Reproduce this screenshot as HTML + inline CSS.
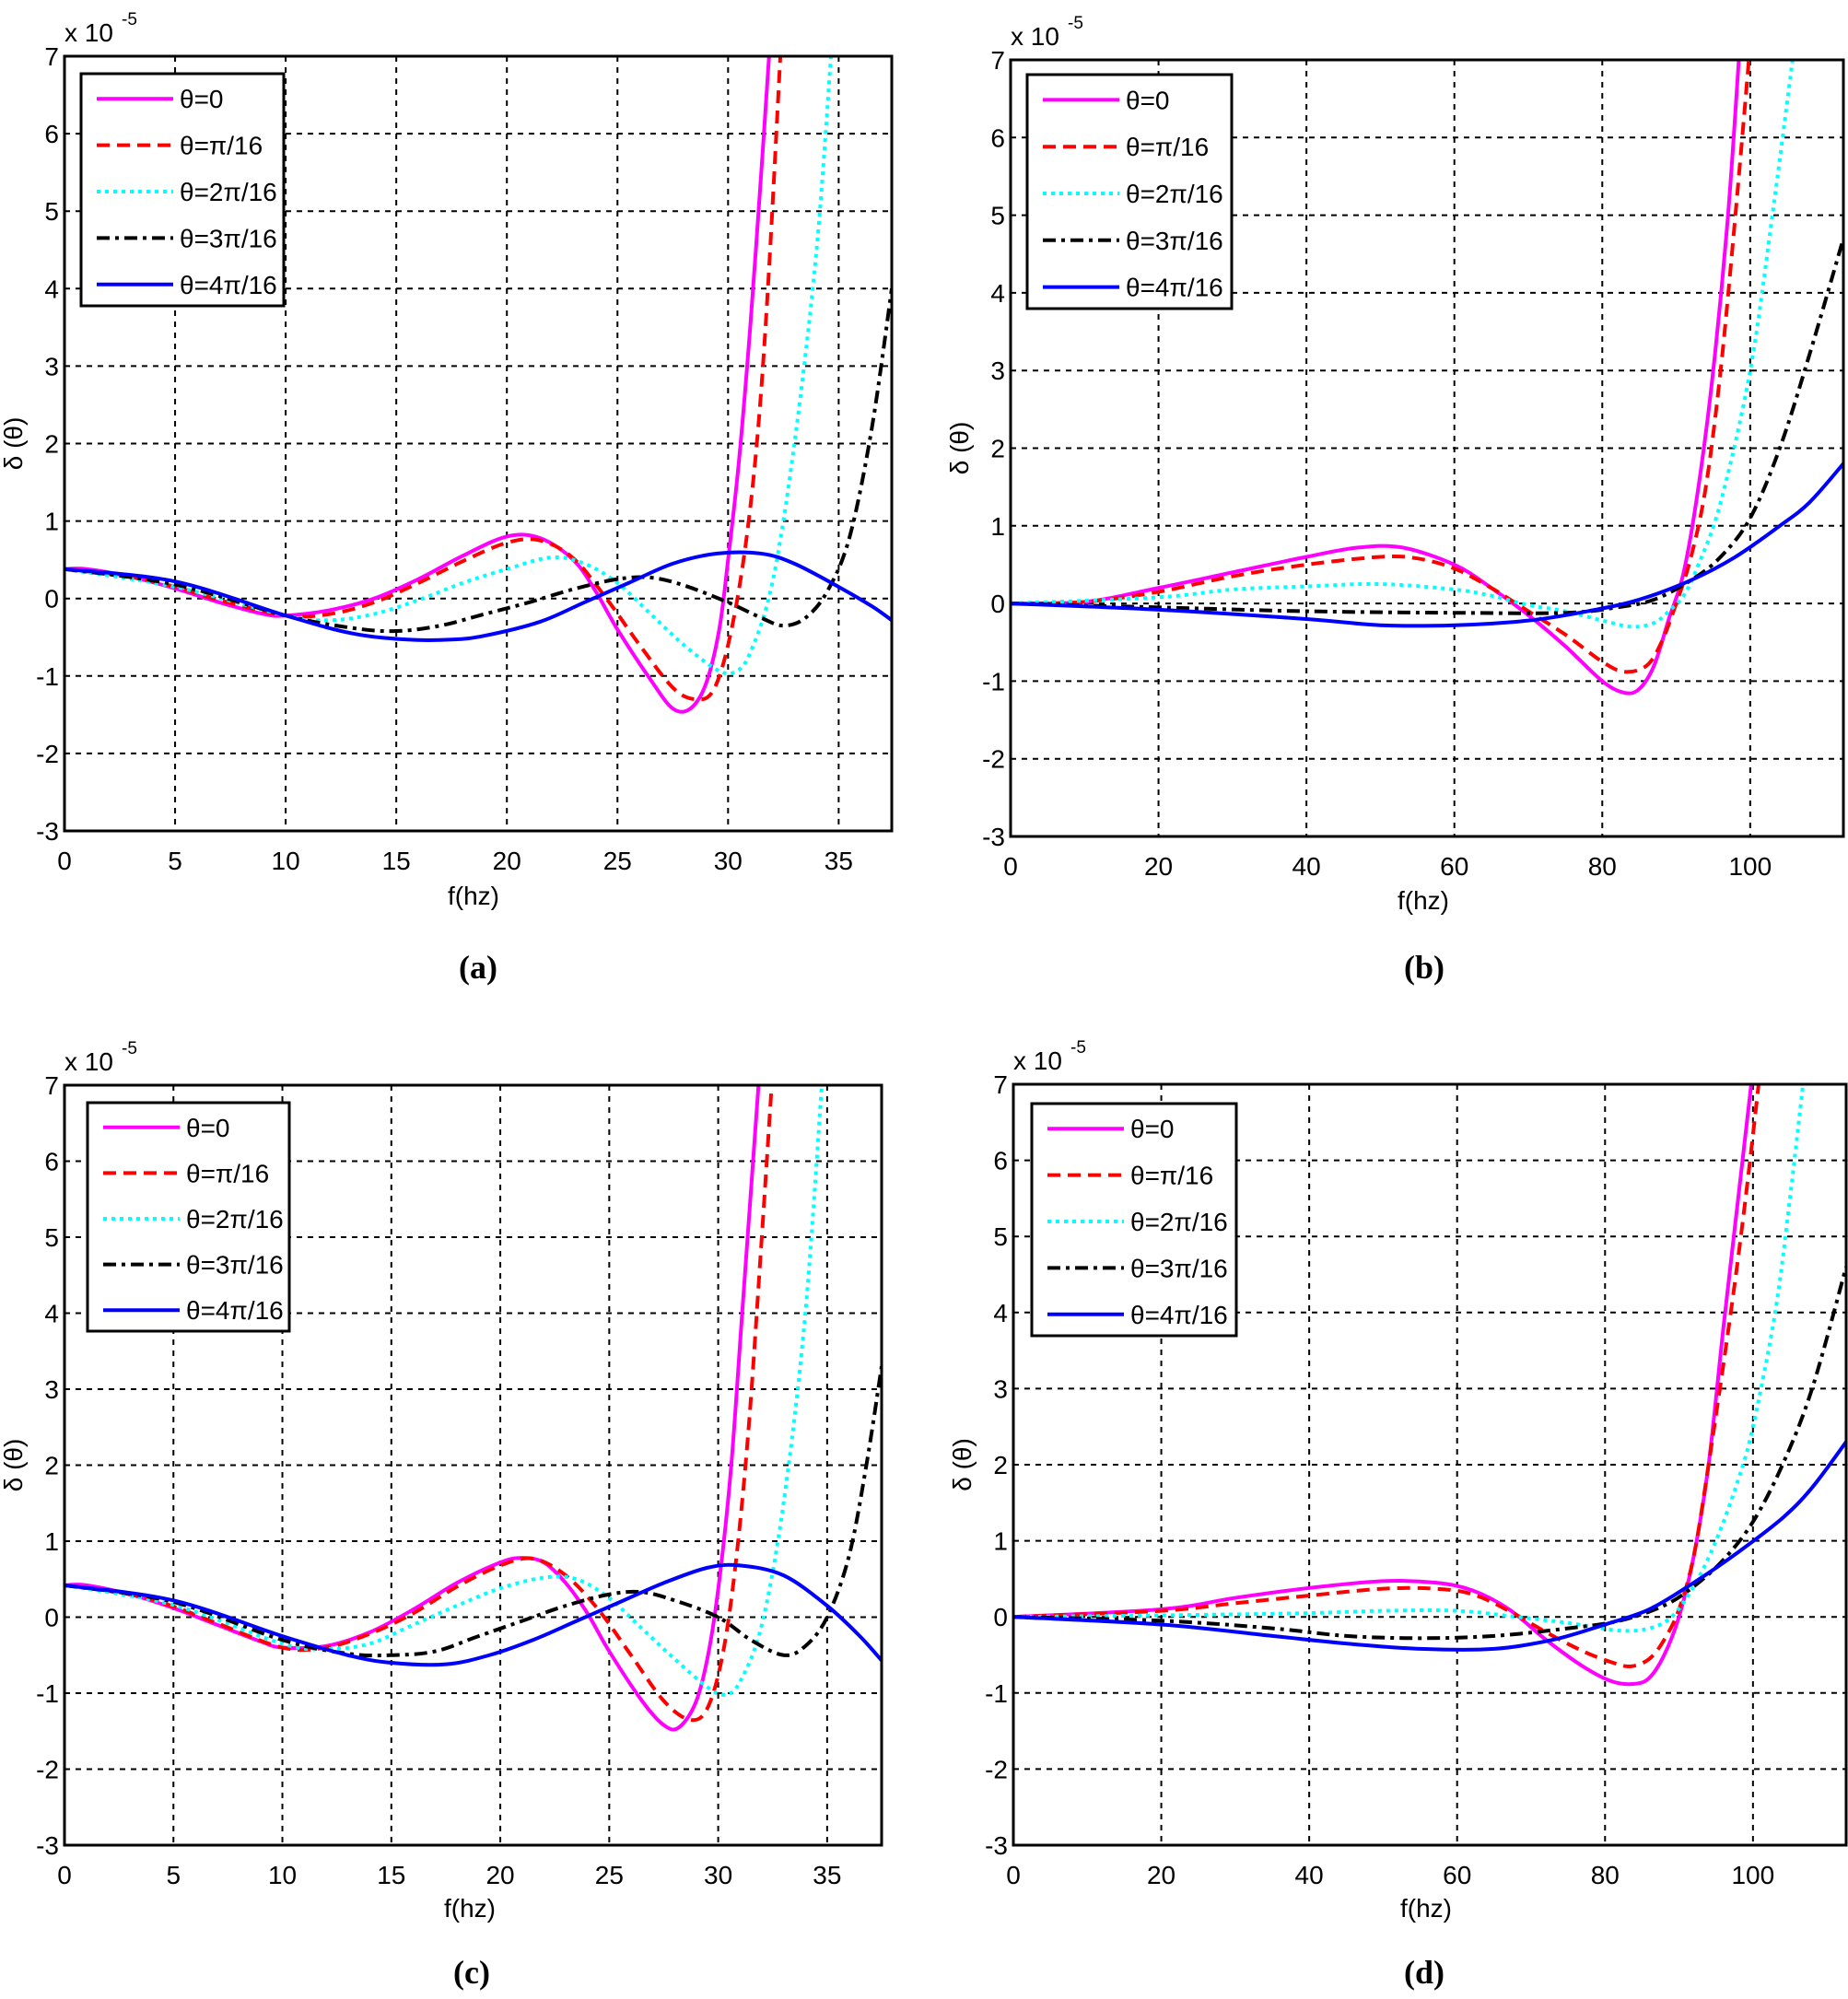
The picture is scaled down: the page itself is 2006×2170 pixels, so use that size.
<!DOCTYPE html>
<html><head><meta charset="utf-8"><style>
html,body{margin:0;padding:0;background:#fff;}
svg{display:block;}
text{font-family:"Liberation Sans",sans-serif;fill:#000;}
</style></head><body>
<svg id="s" width="2006" height="2170" viewBox="0 0 2006 2170" xmlns="http://www.w3.org/2000/svg"></svg>
<script>
const S=document.getElementById('s');let h='';
const panels=[
 {L:70,T:61,R:968,B:902,xmax:37.4,step:5,lab:'(a)',lx:519,ly:1062,fx:514,fy:982,lg:[88,80,308,332]},
 {L:1097,T:65,R:2001,B:908,xmax:112.6,step:20,lab:'(b)',lx:1546,ly:1062,fx:1545,fy:987,lg:[1115,81,1337,335]},
 {L:70,T:1178,R:957,B:2003,xmax:37.5,step:5,lab:'(c)',lx:512,ly:2153,fx:510,fy:2081,lg:[95,1197,314,1445]},
 {L:1100,T:1177,R:2004,B:2003,xmax:112.6,step:20,lab:'(d)',lx:1546,ly:2153,fx:1548,fy:2081,lg:[1120,1198,1342,1450]}
];
const sty=[
 {c:'#ff00ff',d:''},{c:'#ff0000',d:'14,8'},{c:'#00ffff',d:'4,5'},{c:'#000',d:'14,6,4,6'},{c:'#0000ff',d:''}];
const names=['θ=0','θ=π/16','θ=2π/16','θ=3π/16','θ=4π/16'];
const A=[
[[0,0.38],[1,0.38],[3,0.28],[5,0.13],[7,-0.05],[9,-0.2],[10,-0.22],[12,-0.15],[14,0.0],[16,0.25],[18,0.55],[20,0.8],[21.5,0.78],[23,0.5],[24,0.1],[25,-0.4],[26.5,-1.05],[27.5,-1.42],[28.3,-1.42],[29,-1.1],[29.6,-0.4],[30,0.5],[30.5,1.8],[31,3.5],[31.5,5.5],[31.9,7.2]],
[[0,0.38],[3,0.28],[5,0.15],[7,-0.02],[10,-0.22],[12,-0.2],[14,-0.05],[16,0.2],[18,0.48],[20,0.72],[21.5,0.75],[23,0.52],[24.5,0.0],[26,-0.6],[27.5,-1.15],[28.5,-1.3],[29.3,-1.2],[30,-0.6],[30.7,0.5],[31.3,2],[31.8,4],[32.4,7.2]],
[[0,0.38],[5,0.15],[10,-0.22],[12,-0.28],[14,-0.2],[16,-0.02],[18,0.2],[20,0.38],[22,0.53],[23.5,0.45],[25,0.2],[26.5,-0.2],[28,-0.6],[29.5,-0.92],[30.3,-0.95],[31,-0.7],[32,0.2],[33,2],[34,4.5],[34.7,7.2]],
[[0,0.38],[5,0.18],[10,-0.22],[13,-0.38],[15,-0.42],[17,-0.35],[19,-0.2],[21,-0.05],[23,0.12],[25,0.25],[26.5,0.27],[28,0.17],[30,-0.05],[31.5,-0.25],[32.5,-0.35],[33.5,-0.25],[34.5,0.1],[35.5,0.8],[36.5,2.2],[37.4,4.0]],
[[0,0.38],[5,0.22],[10,-0.22],[13,-0.45],[15.5,-0.53],[17.5,-0.53],[19,-0.48],[21.5,-0.3],[23.5,-0.05],[25.5,0.2],[27.5,0.45],[29.5,0.58],[31.5,0.58],[33,0.45],[35,0.15],[36.5,-0.1],[37.4,-0.28]]];
const C=[
[[0,0.42],[1,0.42],[3,0.3],[5,0.12],[7,-0.1],[9,-0.32],[10,-0.4],[12,-0.38],[14,-0.2],[16,0.1],[18,0.45],[20,0.72],[21,0.78],[22,0.72],[23,0.45],[24,0.05],[25,-0.45],[26.5,-1.1],[27.5,-1.42],[28.2,-1.45],[29,-1.1],[29.6,-0.4],[30.1,0.6],[30.6,2],[31.1,4],[31.6,6],[31.9,7.2]],
[[0,0.42],[3,0.3],[5,0.14],[7,-0.08],[10,-0.4],[12,-0.4],[14,-0.22],[16,0.05],[18,0.4],[20,0.68],[21.5,0.77],[23,0.55],[24.5,0.1],[26,-0.5],[27.5,-1.1],[28.7,-1.35],[29.5,-1.2],[30.2,-0.5],[30.8,0.7],[31.4,2.5],[32,5],[32.5,7.2]],
[[0,0.42],[5,0.16],[10,-0.35],[12,-0.42],[14,-0.35],[16,-0.1],[18,0.15],[20,0.38],[22,0.52],[23.5,0.5],[25,0.25],[26.5,-0.15],[28,-0.55],[29.5,-0.92],[30.3,-1.02],[31,-0.85],[32,-0.1],[33,1.5],[34,4],[34.8,7.2]],
[[0,0.42],[5,0.2],[10,-0.3],[13,-0.48],[15,-0.5],[17,-0.45],[19,-0.25],[21,-0.05],[23,0.15],[25,0.3],[26.5,0.33],[28,0.22],[30,0.0],[31.5,-0.3],[33,-0.5],[34,-0.38],[35,0],[36,0.8],[36.8,2],[37.5,3.3]],
[[0,0.42],[5,0.22],[10,-0.25],[13,-0.5],[15,-0.6],[17.5,-0.62],[19.5,-0.5],[21.5,-0.3],[23.5,-0.05],[25.5,0.2],[27.5,0.45],[29.5,0.65],[31,0.68],[33,0.55],[35,0.15],[36.5,-0.25],[37.5,-0.57]]];
const B=[
[[0,0],[10,0.02],[20,0.2],[30,0.4],[40,0.6],[47,0.72],[53,0.72],[60,0.5],[65,0.2],[70,-0.15],[75,-0.55],[80,-1.0],[83,-1.15],[85,-1.1],[87,-0.8],[89,-0.2],[91,0.4],[93,1.5],[95,3],[97,5],[98.6,7.2]],
[[0,0],[10,0.02],[20,0.15],[30,0.35],[40,0.5],[50,0.6],[55,0.58],[60,0.45],[65,0.2],[70,-0.1],[75,-0.4],[80,-0.75],[83,-0.88],[86,-0.8],[88,-0.5],[90,0],[92,0.6],[94,1.5],[96,3],[98,5],[100,7.2]],
[[0,0],[20,0.08],[30,0.18],[40,0.22],[50,0.25],[60,0.18],[65,0.1],[70,-0.02],[75,-0.1],[80,-0.22],[84,-0.3],[87,-0.25],[89,-0.1],[91,0.1],[93,0.5],[96,1.3],[100,3],[103,5],[106,7.2]],
[[0,0],[20,-0.05],[40,-0.1],[60,-0.12],[75,-0.12],[82,-0.05],[87,0.05],[92,0.3],[96,0.6],[100,1.1],[104,2],[108,3.2],[112.6,4.7]],
[[0,0],[20,-0.08],[40,-0.2],[50,-0.28],[60,-0.28],[70,-0.22],[78,-0.1],[85,0.05],[92,0.3],[98,0.6],[104,1.0],[108,1.3],[112.6,1.8]]];
const D=[
[[0,0],[20,0.1],[30,0.25],[40,0.38],[50,0.47],[57,0.45],[62,0.35],[67,0.1],[72,-0.3],[77,-0.65],[81,-0.85],[84,-0.88],[86,-0.8],[88,-0.5],[90,0],[92,0.8],[94,2],[96,3.8],[98,5.5],[100,7.2]],
[[0,0],[20,0.08],[30,0.18],[40,0.28],[50,0.37],[57,0.37],[62,0.3],[67,0.08],[72,-0.2],[77,-0.45],[81,-0.6],[83.5,-0.65],[86,-0.55],[88,-0.3],[90,0.1],[92,0.8],[94,2],[97,4],[99,5.5],[101,7.2]],
[[0,0],[20,0.02],[40,0.05],[50,0.08],[60,0.08],[68,0.0],[75,-0.08],[82,-0.18],[86,-0.15],[89,0],[92,0.4],[95,1],[98,1.8],[100,2.5],[103,4],[105,5.5],[107,7.2]],
[[0,0],[20,-0.05],[35,-0.15],[45,-0.25],[55,-0.28],[65,-0.25],[75,-0.15],[82,-0.05],[88,0.15],[92,0.4],[96,0.75],[100,1.25],[104,2],[108,3],[112.6,4.6]],
[[0,0],[20,-0.1],[35,-0.25],[45,-0.35],[55,-0.42],[65,-0.42],[73,-0.3],[80,-0.1],[86,0.1],[92,0.45],[98,0.85],[104,1.3],[108,1.7],[112.6,2.3]]];
const DATA=[A,B,C,D];
panels.forEach((p,i)=>{
 const X=x=>p.L+(x/p.xmax)*(p.R-p.L), Y=y=>p.B-(y+3)/10*(p.B-p.T);
 h+=`<defs><clipPath id="c${i}"><rect x="${p.L}" y="${p.T}" width="${p.R-p.L}" height="${p.B-p.T}"/></clipPath></defs>`;
 for(let x=p.step;x<p.xmax;x+=p.step) h+=`<line x1="${X(x)}" x2="${X(x)}" y1="${p.T}" y2="${p.B}" stroke="#000" stroke-width="2" stroke-dasharray="6,6"/>`;
 for(let y=-2;y<7;y++) h+=`<line x1="${p.L}" x2="${p.R}" y1="${Y(y)}" y2="${Y(y)}" stroke="#000" stroke-width="2" stroke-dasharray="6,6"/>`;
 for(let x=0;x<=p.xmax;x+=p.step) h+=`<text x="${X(x)}" y="${p.B+42}" font-size="28" text-anchor="middle">${x}</text>`;
 for(let y=-3;y<=7;y++) h+=`<text x="${p.L-6}" y="${Y(y)+10}" font-size="28" text-anchor="end">${y}</text>`;
 h+=`<text x="${p.L}" y="${p.T-16}" font-size="28">x 10</text><text x="${p.L+62}" y="${p.T-34}" font-size="19">-5</text>`;
 const cy=(p.T+p.B)/2;
 h+=`<text transform="translate(${p.L-46},${cy}) rotate(-90)" font-size="28" text-anchor="middle">δ (θ)</text>`;
 h+=`<text x="${p.fx}" y="${p.fy}" font-size="28" text-anchor="middle">f(hz)</text>`;
 h+=`<text x="${p.lx}" y="${p.ly}" font-size="36" font-weight="bold" text-anchor="middle" style="font-family:'Liberation Serif',serif">${p.lab}</text>`;
 DATA[i].forEach((pts,k)=>{
  const P=pts.map(q=>[X(q[0]),Y(q[1])]);
  let d=`M${P[0][0]},${P[0][1]}`;
  for(let j=0;j<P.length-1;j++){const p0=P[Math.max(0,j-1)],p1=P[j],p2=P[j+1],p3=P[Math.min(P.length-1,j+2)];
   d+=` C${p1[0]+(p2[0]-p0[0])/6},${p1[1]+(p2[1]-p0[1])/6} ${p2[0]-(p3[0]-p1[0])/6},${p2[1]-(p3[1]-p1[1])/6} ${p2[0]},${p2[1]}`;}
  h+=`<path d="${d}" fill="none" stroke="${sty[k].c}" stroke-width="4" ${sty[k].d?`stroke-dasharray="${sty[k].d}"`:''} clip-path="url(#c${i})"/>`;
 });
 h+=`<rect x="${p.L}" y="${p.T}" width="${p.R-p.L}" height="${p.B-p.T}" fill="none" stroke="#000" stroke-width="3"/>`;
 const [a,b,c,e]=p.lg;
 h+=`<rect x="${a}" y="${b}" width="${c-a}" height="${e-b}" fill="#fff" stroke="#000" stroke-width="3"/>`;
 const rh=(e-b)/5;
 names.forEach((n,k)=>{const yy=b+rh*(k+0.5)+2;
  h+=`<line x1="${a+17}" x2="${a+100}" y1="${yy}" y2="${yy}" stroke="${sty[k].c}" stroke-width="4" ${sty[k].d?`stroke-dasharray="${sty[k].d}"`:''}/>`;
  h+=`<text x="${a+107}" y="${yy+10}" font-size="28">${n}</text>`;});
});
S.innerHTML=h;
</script>
</body></html>
